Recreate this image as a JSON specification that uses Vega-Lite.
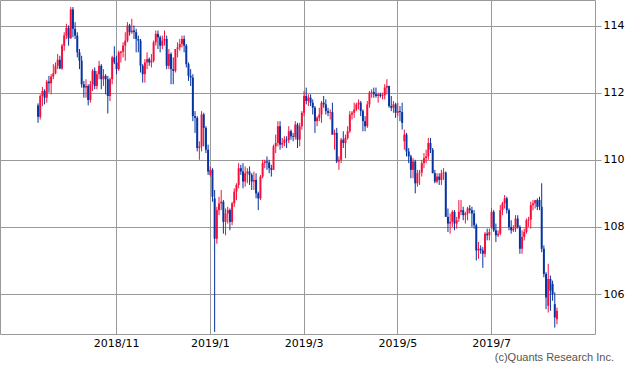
{
"$schema":"https://vega.github.io/schema/vega-lite/v6.json",
"width":595,"height":334,"autosize":"none",
"padding":{"left":0,"top":0,"right":30,"bottom":38},
"background":"white",
"title":{"text":"(c)Quants Research Inc.","orient":"bottom","anchor":"end","frame":"group","font":"Liberation Sans","fontSize":11,"fontWeight":"normal","color":"#555555","dx":19,"offset":4},
"config":{"view":{"stroke":"#999999","strokeWidth":1},"font":"DejaVu Sans"},
"data":{"values":[
{"d":"2018-09-12","o":111.62,"h":111.68,"l":111.10,"c":111.28},
{"d":"2018-09-13","o":111.28,"h":111.95,"l":111.20,"c":111.90},
{"d":"2018-09-14","o":111.90,"h":112.17,"l":111.60,"c":112.05},
{"d":"2018-09-17","o":112.05,"h":112.10,"l":111.65,"c":111.85},
{"d":"2018-09-18","o":111.85,"h":112.38,"l":111.70,"c":112.33},
{"d":"2018-09-19","o":112.33,"h":112.50,"l":112.00,"c":112.28},
{"d":"2018-09-20","o":112.28,"h":112.55,"l":111.95,"c":112.48},
{"d":"2018-09-21","o":112.48,"h":112.85,"l":112.40,"c":112.58},
{"d":"2018-09-24","o":112.58,"h":112.90,"l":112.55,"c":112.80},
{"d":"2018-09-25","o":112.80,"h":113.15,"l":112.70,"c":112.98},
{"d":"2018-09-26","o":112.98,"h":113.10,"l":112.70,"c":112.72},
{"d":"2018-09-27","o":112.72,"h":113.45,"l":112.68,"c":113.40},
{"d":"2018-09-28","o":113.40,"h":113.80,"l":113.25,"c":113.70},
{"d":"2018-10-01","o":113.70,"h":114.05,"l":113.60,"c":113.93},
{"d":"2018-10-02","o":113.93,"h":114.00,"l":113.40,"c":113.62},
{"d":"2018-10-03","o":113.62,"h":114.55,"l":113.60,"c":114.48},
{"d":"2018-10-04","o":114.48,"h":114.55,"l":113.65,"c":113.90},
{"d":"2018-10-05","o":113.90,"h":114.10,"l":113.60,"c":113.70},
{"d":"2018-10-08","o":113.70,"h":113.80,"l":113.05,"c":113.20},
{"d":"2018-10-09","o":113.20,"h":113.30,"l":112.70,"c":112.95},
{"d":"2018-10-10","o":112.95,"h":113.10,"l":112.15,"c":112.25},
{"d":"2018-10-11","o":112.25,"h":112.35,"l":111.85,"c":112.15},
{"d":"2018-10-12","o":112.15,"h":112.40,"l":111.85,"c":112.20},
{"d":"2018-10-15","o":112.20,"h":112.25,"l":111.62,"c":111.78},
{"d":"2018-10-16","o":111.78,"h":112.35,"l":111.70,"c":112.25},
{"d":"2018-10-17","o":112.25,"h":112.70,"l":112.05,"c":112.65},
{"d":"2018-10-18","o":112.65,"h":112.75,"l":112.10,"c":112.20},
{"d":"2018-10-19","o":112.20,"h":112.65,"l":112.10,"c":112.55},
{"d":"2018-10-22","o":112.55,"h":112.95,"l":112.40,"c":112.80},
{"d":"2018-10-23","o":112.80,"h":112.85,"l":112.10,"c":112.40},
{"d":"2018-10-24","o":112.40,"h":112.70,"l":112.20,"c":112.50},
{"d":"2018-10-25","o":112.50,"h":112.55,"l":111.95,"c":112.40},
{"d":"2018-10-26","o":112.40,"h":112.50,"l":111.38,"c":111.90},
{"d":"2018-10-29","o":111.90,"h":112.45,"l":111.75,"c":112.40},
{"d":"2018-10-30","o":112.40,"h":113.10,"l":112.25,"c":113.05},
{"d":"2018-10-31","o":113.05,"h":113.38,"l":112.85,"c":112.90},
{"d":"2018-11-01","o":112.90,"h":113.10,"l":112.55,"c":112.70},
{"d":"2018-11-02","o":112.70,"h":113.25,"l":112.65,"c":113.20},
{"d":"2018-11-05","o":113.18,"h":113.25,"l":112.90,"c":113.22},
{"d":"2018-11-06","o":113.22,"h":113.50,"l":113.05,"c":113.40},
{"d":"2018-11-07","o":113.40,"h":113.80,"l":112.95,"c":113.55},
{"d":"2018-11-08","o":113.55,"h":114.10,"l":113.50,"c":114.00},
{"d":"2018-11-09","o":114.00,"h":114.05,"l":113.70,"c":113.80},
{"d":"2018-11-12","o":113.80,"h":114.20,"l":113.75,"c":113.85},
{"d":"2018-11-13","o":113.85,"h":114.00,"l":113.60,"c":113.80},
{"d":"2018-11-14","o":113.80,"h":113.90,"l":113.20,"c":113.60},
{"d":"2018-11-15","o":113.60,"h":113.70,"l":113.20,"c":113.55},
{"d":"2018-11-16","o":113.55,"h":113.60,"l":112.60,"c":112.80},
{"d":"2018-11-19","o":112.80,"h":112.85,"l":112.30,"c":112.55},
{"d":"2018-11-20","o":112.55,"h":113.00,"l":112.30,"c":112.90},
{"d":"2018-11-21","o":112.90,"h":113.20,"l":112.70,"c":113.00},
{"d":"2018-11-22","o":113.00,"h":113.05,"l":112.80,"c":112.90},
{"d":"2018-11-23","o":112.90,"h":113.15,"l":112.75,"c":112.95},
{"d":"2018-11-26","o":112.95,"h":113.55,"l":112.90,"c":113.50},
{"d":"2018-11-27","o":113.50,"h":113.85,"l":113.40,"c":113.75},
{"d":"2018-11-28","o":113.75,"h":113.85,"l":113.30,"c":113.65},
{"d":"2018-11-29","o":113.65,"h":113.70,"l":113.20,"c":113.40},
{"d":"2018-11-30","o":113.40,"h":113.70,"l":113.30,"c":113.55},
{"d":"2018-12-03","o":113.55,"h":113.85,"l":113.40,"c":113.60},
{"d":"2018-12-04","o":113.60,"h":113.70,"l":112.70,"c":112.80},
{"d":"2018-12-05","o":112.80,"h":113.30,"l":112.70,"c":113.15},
{"d":"2018-12-06","o":113.15,"h":113.20,"l":112.25,"c":112.70},
{"d":"2018-12-07","o":112.70,"h":113.05,"l":112.25,"c":112.65},
{"d":"2018-12-10","o":112.65,"h":113.30,"l":112.60,"c":113.30},
{"d":"2018-12-11","o":113.30,"h":113.50,"l":113.05,"c":113.35},
{"d":"2018-12-12","o":113.35,"h":113.60,"l":113.25,"c":113.45},
{"d":"2018-12-13","o":113.45,"h":113.70,"l":113.35,"c":113.60},
{"d":"2018-12-14","o":113.60,"h":113.70,"l":113.20,"c":113.40},
{"d":"2018-12-17","o":113.40,"h":113.45,"l":112.75,"c":112.85},
{"d":"2018-12-18","o":112.85,"h":112.90,"l":112.35,"c":112.50},
{"d":"2018-12-19","o":112.50,"h":112.70,"l":112.20,"c":112.45},
{"d":"2018-12-20","o":112.45,"h":112.55,"l":111.15,"c":111.30},
{"d":"2018-12-21","o":111.30,"h":111.45,"l":110.80,"c":111.25},
{"d":"2018-12-24","o":111.25,"h":111.30,"l":110.25,"c":110.35},
{"d":"2018-12-25","o":110.35,"h":110.55,"l":110.00,"c":110.40},
{"d":"2018-12-26","o":110.40,"h":111.45,"l":110.25,"c":111.35},
{"d":"2018-12-27","o":111.35,"h":111.40,"l":110.40,"c":110.95},
{"d":"2018-12-28","o":110.95,"h":111.00,"l":110.20,"c":110.30},
{"d":"2018-12-31","o":110.30,"h":110.45,"l":109.55,"c":109.65},
{"d":"2019-01-01","o":109.55,"h":109.80,"l":109.50,"c":109.70},
{"d":"2019-01-02","o":109.70,"h":109.75,"l":108.75,"c":108.90},
{"d":"2019-01-03","o":108.85,"h":109.10,"l":104.87,"c":107.65},
{"d":"2019-01-04","o":107.65,"h":108.60,"l":107.50,"c":108.50},
{"d":"2019-01-07","o":108.50,"h":108.90,"l":108.35,"c":108.70},
{"d":"2019-01-08","o":108.70,"h":109.10,"l":108.50,"c":108.75},
{"d":"2019-01-09","o":108.75,"h":108.80,"l":107.80,"c":108.15},
{"d":"2019-01-10","o":108.15,"h":108.55,"l":107.75,"c":108.40},
{"d":"2019-01-11","o":108.40,"h":108.60,"l":108.10,"c":108.50},
{"d":"2019-01-14","o":108.50,"h":108.55,"l":107.90,"c":108.15},
{"d":"2019-01-15","o":108.15,"h":108.75,"l":108.05,"c":108.70},
{"d":"2019-01-16","o":108.70,"h":109.15,"l":108.60,"c":109.05},
{"d":"2019-01-17","o":109.05,"h":109.30,"l":108.80,"c":109.25},
{"d":"2019-01-18","o":109.25,"h":109.90,"l":109.15,"c":109.75},
{"d":"2019-01-21","o":109.75,"h":109.85,"l":109.55,"c":109.65},
{"d":"2019-01-22","o":109.65,"h":109.90,"l":109.15,"c":109.35},
{"d":"2019-01-23","o":109.35,"h":109.80,"l":109.20,"c":109.60},
{"d":"2019-01-24","o":109.60,"h":109.75,"l":109.30,"c":109.65},
{"d":"2019-01-25","o":109.65,"h":109.80,"l":109.25,"c":109.55},
{"d":"2019-01-28","o":109.55,"h":109.60,"l":109.10,"c":109.35},
{"d":"2019-01-29","o":109.35,"h":109.65,"l":109.10,"c":109.40},
{"d":"2019-01-30","o":109.40,"h":109.60,"l":108.85,"c":109.00},
{"d":"2019-01-31","o":109.00,"h":109.05,"l":108.50,"c":108.85},
{"d":"2019-02-01","o":108.85,"h":109.55,"l":108.80,"c":109.50},
{"d":"2019-02-04","o":109.50,"h":110.00,"l":109.45,"c":109.90},
{"d":"2019-02-05","o":109.90,"h":110.00,"l":109.75,"c":109.95},
{"d":"2019-02-06","o":109.95,"h":110.10,"l":109.70,"c":109.92},
{"d":"2019-02-07","o":109.92,"h":110.00,"l":109.60,"c":109.75},
{"d":"2019-02-08","o":109.75,"h":109.85,"l":109.50,"c":109.70},
{"d":"2019-02-11","o":109.70,"h":110.45,"l":109.70,"c":110.40},
{"d":"2019-02-12","o":110.40,"h":110.75,"l":110.20,"c":110.50},
{"d":"2019-02-13","o":110.50,"h":111.15,"l":110.40,"c":111.00},
{"d":"2019-02-14","o":111.00,"h":111.15,"l":110.30,"c":110.45},
{"d":"2019-02-15","o":110.45,"h":110.65,"l":110.35,"c":110.50},
{"d":"2019-02-18","o":110.50,"h":110.70,"l":110.40,"c":110.60},
{"d":"2019-02-19","o":110.60,"h":110.70,"l":110.35,"c":110.58},
{"d":"2019-02-20","o":110.58,"h":111.00,"l":110.50,"c":110.85},
{"d":"2019-02-21","o":110.85,"h":110.90,"l":110.60,"c":110.70},
{"d":"2019-02-22","o":110.70,"h":110.80,"l":110.55,"c":110.68},
{"d":"2019-02-25","o":110.68,"h":111.15,"l":110.60,"c":111.05},
{"d":"2019-02-26","o":111.05,"h":111.10,"l":110.35,"c":110.60},
{"d":"2019-02-27","o":110.60,"h":111.10,"l":110.40,"c":111.00},
{"d":"2019-02-28","o":111.00,"h":111.45,"l":110.90,"c":111.40},
{"d":"2019-03-01","o":111.40,"h":112.05,"l":111.30,"c":111.90},
{"d":"2019-03-04","o":111.90,"h":112.15,"l":111.65,"c":111.75},
{"d":"2019-03-05","o":111.75,"h":111.95,"l":111.60,"c":111.85},
{"d":"2019-03-06","o":111.85,"h":111.95,"l":111.60,"c":111.70},
{"d":"2019-03-07","o":111.70,"h":111.80,"l":111.35,"c":111.55},
{"d":"2019-03-08","o":111.55,"h":111.60,"l":110.80,"c":111.15},
{"d":"2019-03-11","o":111.15,"h":111.30,"l":111.00,"c":111.25},
{"d":"2019-03-12","o":111.25,"h":111.55,"l":111.15,"c":111.35},
{"d":"2019-03-13","o":111.35,"h":111.75,"l":111.10,"c":111.70},
{"d":"2019-03-14","o":111.70,"h":111.90,"l":111.55,"c":111.65},
{"d":"2019-03-15","o":111.65,"h":111.80,"l":111.35,"c":111.45},
{"d":"2019-03-18","o":111.45,"h":111.55,"l":111.30,"c":111.40},
{"d":"2019-03-19","o":111.40,"h":111.50,"l":111.20,"c":111.42},
{"d":"2019-03-20","o":111.42,"h":111.70,"l":110.75,"c":110.75},
{"d":"2019-03-21","o":110.75,"h":110.90,"l":110.30,"c":110.80},
{"d":"2019-03-22","o":110.80,"h":110.95,"l":109.90,"c":109.95},
{"d":"2019-03-25","o":109.95,"h":110.10,"l":109.70,"c":110.00},
{"d":"2019-03-26","o":110.00,"h":110.65,"l":109.90,"c":110.60},
{"d":"2019-03-27","o":110.60,"h":110.85,"l":110.35,"c":110.50},
{"d":"2019-03-28","o":110.50,"h":110.75,"l":110.05,"c":110.65},
{"d":"2019-03-29","o":110.65,"h":111.00,"l":110.60,"c":110.85},
{"d":"2019-04-01","o":110.85,"h":111.45,"l":110.80,"c":111.35},
{"d":"2019-04-02","o":111.35,"h":111.45,"l":111.20,"c":111.40},
{"d":"2019-04-03","o":111.40,"h":111.70,"l":111.25,"c":111.50},
{"d":"2019-04-04","o":111.50,"h":111.70,"l":111.45,"c":111.65},
{"d":"2019-04-05","o":111.65,"h":111.80,"l":111.50,"c":111.70},
{"d":"2019-04-08","o":111.70,"h":111.75,"l":111.30,"c":111.45},
{"d":"2019-04-09","o":111.45,"h":111.50,"l":110.85,"c":111.15},
{"d":"2019-04-10","o":111.15,"h":111.30,"l":110.85,"c":111.00},
{"d":"2019-04-11","o":111.00,"h":111.75,"l":110.95,"c":111.65},
{"d":"2019-04-12","o":111.65,"h":112.05,"l":111.55,"c":112.00},
{"d":"2019-04-15","o":112.00,"h":112.10,"l":111.85,"c":112.02},
{"d":"2019-04-16","o":112.02,"h":112.15,"l":111.85,"c":111.95},
{"d":"2019-04-17","o":111.95,"h":112.15,"l":111.85,"c":111.90},
{"d":"2019-04-18","o":111.90,"h":112.00,"l":111.70,"c":111.95},
{"d":"2019-04-19","o":111.95,"h":112.00,"l":111.85,"c":111.90},
{"d":"2019-04-22","o":111.90,"h":112.00,"l":111.80,"c":111.92},
{"d":"2019-04-23","o":111.92,"h":112.25,"l":111.80,"c":112.15},
{"d":"2019-04-24","o":112.15,"h":112.40,"l":111.95,"c":112.20},
{"d":"2019-04-25","o":112.20,"h":112.20,"l":111.55,"c":111.60},
{"d":"2019-04-26","o":111.60,"h":111.90,"l":111.45,"c":111.55},
{"d":"2019-04-29","o":111.55,"h":111.75,"l":111.40,"c":111.65},
{"d":"2019-04-30","o":111.65,"h":111.70,"l":111.25,"c":111.40},
{"d":"2019-05-01","o":111.40,"h":111.70,"l":111.30,"c":111.45},
{"d":"2019-05-02","o":111.45,"h":111.60,"l":111.15,"c":111.42},
{"d":"2019-05-03","o":111.42,"h":111.70,"l":110.90,"c":111.10},
{"d":"2019-05-06","o":110.55,"h":110.90,"l":110.30,"c":110.75},
{"d":"2019-05-07","o":110.75,"h":110.80,"l":110.10,"c":110.25},
{"d":"2019-05-08","o":110.25,"h":110.35,"l":109.90,"c":110.10},
{"d":"2019-05-09","o":110.10,"h":110.15,"l":109.45,"c":109.70},
{"d":"2019-05-10","o":109.70,"h":110.05,"l":109.45,"c":109.95},
{"d":"2019-05-13","o":109.95,"h":110.00,"l":109.00,"c":109.30},
{"d":"2019-05-14","o":109.30,"h":109.70,"l":109.20,"c":109.60},
{"d":"2019-05-15","o":109.60,"h":109.70,"l":109.25,"c":109.62},
{"d":"2019-05-16","o":109.62,"h":110.00,"l":109.50,"c":109.90},
{"d":"2019-05-17","o":109.90,"h":110.20,"l":109.75,"c":110.05},
{"d":"2019-05-20","o":110.05,"h":110.30,"l":109.90,"c":110.10},
{"d":"2019-05-21","o":110.10,"h":110.65,"l":110.00,"c":110.50},
{"d":"2019-05-22","o":110.50,"h":110.65,"l":110.20,"c":110.30},
{"d":"2019-05-23","o":110.30,"h":110.35,"l":109.60,"c":109.60},
{"d":"2019-05-24","o":109.60,"h":109.70,"l":109.30,"c":109.35},
{"d":"2019-05-27","o":109.35,"h":109.60,"l":109.30,"c":109.50},
{"d":"2019-05-28","o":109.50,"h":109.60,"l":109.25,"c":109.40},
{"d":"2019-05-29","o":109.40,"h":109.70,"l":109.25,"c":109.60},
{"d":"2019-05-30","o":109.60,"h":109.75,"l":109.40,"c":109.62},
{"d":"2019-05-31","o":109.62,"h":109.65,"l":108.30,"c":108.30},
{"d":"2019-06-03","o":108.30,"h":108.55,"l":107.85,"c":108.10},
{"d":"2019-06-04","o":108.10,"h":108.40,"l":107.80,"c":108.15},
{"d":"2019-06-05","o":108.15,"h":108.50,"l":108.00,"c":108.45},
{"d":"2019-06-06","o":108.45,"h":108.50,"l":107.90,"c":108.10},
{"d":"2019-06-07","o":108.10,"h":108.30,"l":107.95,"c":108.20},
{"d":"2019-06-10","o":108.25,"h":108.80,"l":108.15,"c":108.45},
{"d":"2019-06-11","o":108.45,"h":108.80,"l":108.35,"c":108.50},
{"d":"2019-06-12","o":108.50,"h":108.60,"l":108.20,"c":108.35},
{"d":"2019-06-13","o":108.35,"h":108.45,"l":108.10,"c":108.40},
{"d":"2019-06-14","o":108.40,"h":108.60,"l":108.20,"c":108.55},
{"d":"2019-06-17","o":108.55,"h":108.65,"l":108.40,"c":108.50},
{"d":"2019-06-18","o":108.50,"h":108.60,"l":108.00,"c":108.40},
{"d":"2019-06-19","o":108.40,"h":108.50,"l":107.95,"c":108.05},
{"d":"2019-06-20","o":108.05,"h":108.10,"l":107.00,"c":107.30},
{"d":"2019-06-21","o":107.30,"h":107.55,"l":107.05,"c":107.35},
{"d":"2019-06-24","o":107.35,"h":107.45,"l":107.20,"c":107.30},
{"d":"2019-06-25","o":107.30,"h":107.40,"l":106.78,"c":107.20},
{"d":"2019-06-26","o":107.20,"h":107.85,"l":107.10,"c":107.80},
{"d":"2019-06-27","o":107.80,"h":107.95,"l":107.60,"c":107.75},
{"d":"2019-06-28","o":107.75,"h":107.95,"l":107.60,"c":107.85},
{"d":"2019-07-01","o":108.00,"h":108.55,"l":107.95,"c":108.45},
{"d":"2019-07-02","o":108.45,"h":108.50,"l":107.85,"c":107.90},
{"d":"2019-07-03","o":107.90,"h":108.10,"l":107.55,"c":107.75},
{"d":"2019-07-04","o":107.75,"h":107.90,"l":107.70,"c":107.80},
{"d":"2019-07-05","o":107.80,"h":108.65,"l":107.75,"c":108.50},
{"d":"2019-07-08","o":108.50,"h":108.75,"l":108.35,"c":108.70},
{"d":"2019-07-09","o":108.70,"h":108.95,"l":108.55,"c":108.85},
{"d":"2019-07-10","o":108.85,"h":108.90,"l":108.40,"c":108.50},
{"d":"2019-07-11","o":108.50,"h":108.55,"l":107.90,"c":108.00},
{"d":"2019-07-12","o":108.00,"h":108.20,"l":107.80,"c":107.90},
{"d":"2019-07-15","o":107.90,"h":108.05,"l":107.85,"c":107.95},
{"d":"2019-07-16","o":107.95,"h":108.35,"l":107.85,"c":108.25},
{"d":"2019-07-17","o":108.25,"h":108.35,"l":107.95,"c":108.00},
{"d":"2019-07-18","o":108.00,"h":108.05,"l":107.20,"c":107.35},
{"d":"2019-07-19","o":107.35,"h":107.90,"l":107.20,"c":107.70},
{"d":"2019-07-22","o":107.70,"h":107.95,"l":107.60,"c":107.85},
{"d":"2019-07-23","o":107.85,"h":108.25,"l":107.80,"c":108.20},
{"d":"2019-07-24","o":108.20,"h":108.30,"l":108.00,"c":108.22},
{"d":"2019-07-25","o":108.22,"h":108.75,"l":107.95,"c":108.65},
{"d":"2019-07-26","o":108.65,"h":108.80,"l":108.50,"c":108.70},
{"d":"2019-07-29","o":108.70,"h":108.80,"l":108.55,"c":108.80},
{"d":"2019-07-30","o":108.80,"h":108.85,"l":108.50,"c":108.60},
{"d":"2019-07-31","o":108.80,"h":108.90,"l":108.50,"c":108.60},
{"d":"2019-08-01","o":108.60,"h":109.30,"l":107.25,"c":107.35},
{"d":"2019-08-02","o":107.35,"h":107.45,"l":106.50,"c":106.60},
{"d":"2019-08-05","o":106.60,"h":106.65,"l":105.55,"c":105.90},
{"d":"2019-08-06","o":105.65,"h":106.90,"l":105.45,"c":106.45},
{"d":"2019-08-07","o":106.45,"h":106.55,"l":105.50,"c":106.10},
{"d":"2019-08-08","o":106.30,"h":106.40,"l":105.80,"c":106.00},
{"d":"2019-08-09","o":105.70,"h":106.05,"l":105.00,"c":105.30},
{"d":"2019-08-12","o":105.25,"h":105.60,"l":105.10,"c":105.50}
]},
"encoding":{
"x":{"field":"d","type":"ordinal","sort":"ascending",
"scale":{"domain":{"unionWith":["2018-08-20","2018-08-21","2018-08-22","2018-08-23","2018-08-24","2018-08-27","2018-08-28","2018-08-29","2018-08-30","2018-08-31","2018-09-03","2018-09-04","2018-09-05","2018-09-06","2018-09-07","2018-09-10","2018-09-11","2019-08-13","2019-08-14","2019-08-15","2019-08-16","2019-08-19","2019-08-20","2019-08-21","2019-08-22","2019-08-23","2019-08-26","2019-08-27","2019-08-28","2019-08-29","2019-08-30","2019-09-02","2019-09-03","2019-09-04"]},"paddingInner":0.1,"paddingOuter":0,"round":false},
"axis":{"title":null,"values":["2018-11-01","2019-01-01","2019-03-01","2019-05-01","2019-07-01"],
"labelExpr":"slice(datum.value,0,4) + '/' + toNumber(slice(datum.value,5,7))",
"labelAngle":0,"ticks":false,"domain":false,"grid":true,"gridColor":"#999999","gridOpacity":1,"gridWidth":1,
"labelFont":"DejaVu Sans","labelFontSize":11,"labelColor":"#000000","labelPadding":3}},
"color":{"condition":{"test":"datum.c >= datum.o","value":"#f70f3c"},"value":"#0533a0"}
},
"layer":[
{"mark":{"type":"rule","strokeWidth":1},
"encoding":{"y":{"field":"l","type":"quantitative","scale":{"domain":[104.81,114.76],"nice":false,"zero":false},
"axis":{"title":null,"orient":"right","values":[106,108,110,112,114],"grid":true,"gridColor":"#999999","gridOpacity":1,"gridWidth":1,"domain":false,"ticks":true,"tickSize":6,"tickColor":"#999999","tickWidth":1,"labelFont":"DejaVu Sans","labelFontSize":11,"labelColor":"#000000","labelPadding":2}},
"y2":{"field":"h"}}},
{"mark":{"type":"bar"},
"encoding":{"y":{"field":"o","type":"quantitative"},"y2":{"field":"c"}}}
]
}
